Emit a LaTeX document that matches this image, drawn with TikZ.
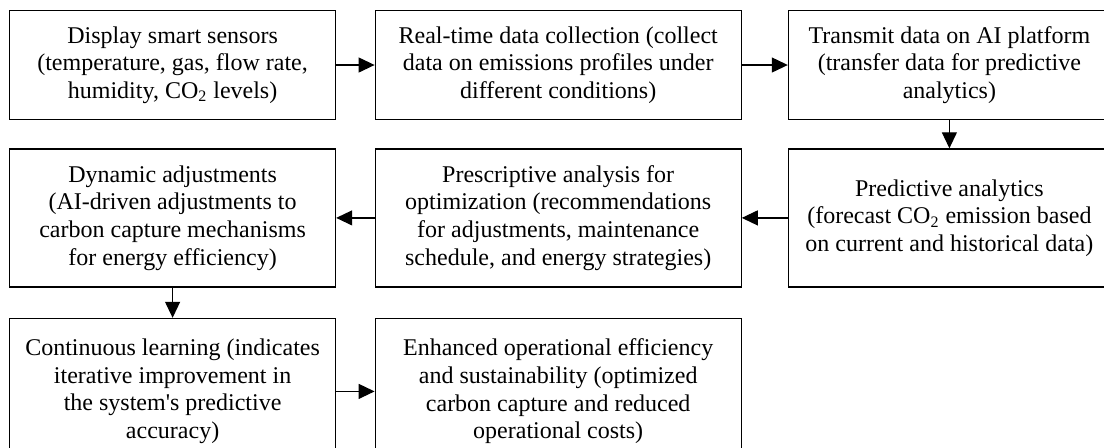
\documentclass[tikz,border=0pt]{standalone}
\usepackage{fontspec}
\setmainfont{Liberation Serif}
\usetikzlibrary{positioning, arrows.meta}

\begin{document}
\begin{tikzpicture}[
        stage/.style={draw, line width=0.6pt, align=center, inner sep=2pt,
            font=\fontsize{12pt}{13.8pt}\selectfont},
        flow/.style={line width=0.6pt, -{Triangle[length=8pt, width=7.5pt]}}
    ]
            \useasboundingbox (0,0) rectangle (552pt,-223.5pt);
            \node[stage, minimum width=163pt, minimum height=54.5pt] (sensors) at (86.3pt,-32.5pt)
                {Display smart sensors\\(temperature, gas, flow rate,\\humidity, CO\textsubscript{2} levels)};
            \node[stage, minimum width=183pt, minimum height=54.5pt, right=19.2pt of sensors] (collect)
                {Real-time data collection (collect\\data on emissions profiles under\\different conditions)};
            \node[stage, minimum width=161pt, minimum height=54.5pt, right=23pt of collect] (transmit)
                {Transmit data on AI platform\\(transfer data for predictive\\analytics)};
            \node[stage, minimum width=161pt, minimum height=69pt, below=14.1pt of transmit] (predictive)
                {Predictive analytics\\(forecast CO\textsubscript{2} emission based\\on current and historical data)};
            \node[stage, minimum width=183pt, minimum height=69pt, left=23pt of predictive] (prescriptive)
                {Prescriptive analysis for\\optimization (recommendations\\for adjustments, maintenance\\schedule, and energy strategies)};
            \node[stage, minimum width=163pt, minimum height=69pt, left=19.2pt of prescriptive] (dynamic)
                {Dynamic adjustments\\(AI-driven adjustments to\\carbon capture mechanisms\\for energy efficiency)};
            \node[stage, minimum width=163pt, minimum height=73pt, below=15.15pt of dynamic] (learning)
                {Continuous learning (indicates\\iterative improvement in\\the system\textquotesingle s predictive\\accuracy)};
            \node[stage, minimum width=183pt, minimum height=73pt, right=19.2pt of learning] (enhanced)
                {Enhanced operational efficiency\\and sustainability (optimized\\carbon capture and reduced\\operational costs)};
            \draw[flow] (sensors) -- (collect);
            \draw[flow] (collect) -- (transmit);
            \draw[flow] (transmit) -- (predictive);
            \draw[flow] (predictive) -- (prescriptive);
            \draw[flow] (prescriptive) -- (dynamic);
            \draw[flow] (dynamic) -- (learning);
            \draw[flow] (learning) -- (enhanced);
        \end{tikzpicture}
\end{document}
